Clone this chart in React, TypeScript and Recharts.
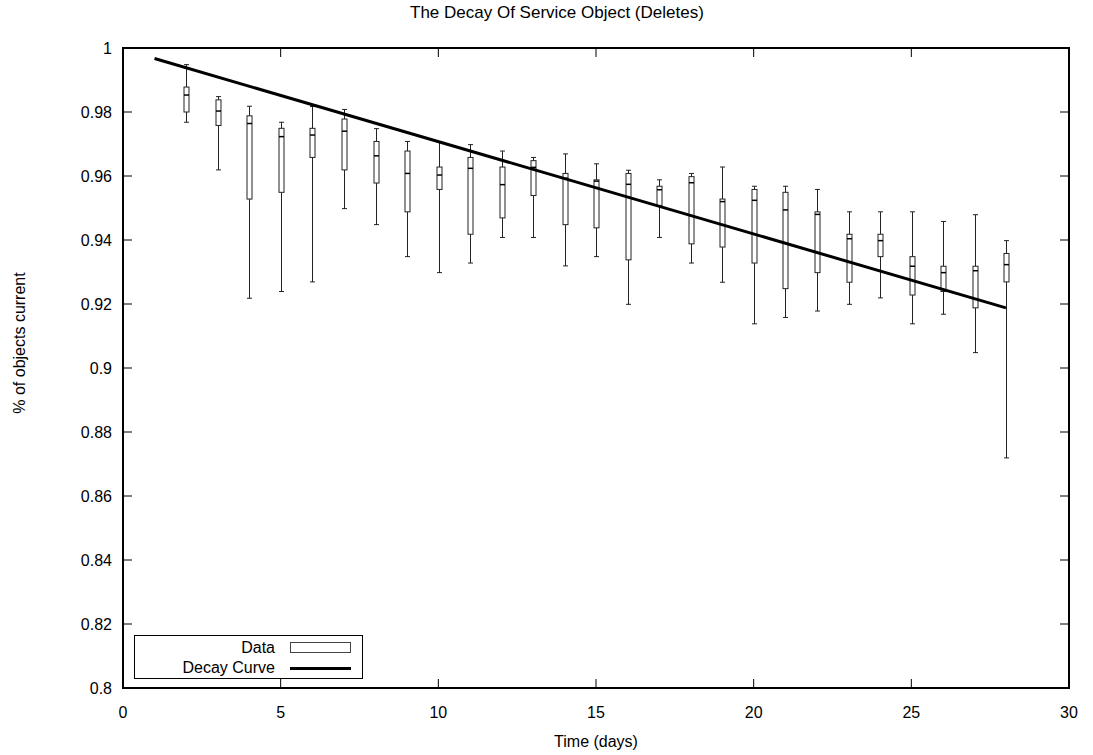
import { ComposedChart, Bar, Line, XAxis, YAxis, ReferenceArea } from 'recharts'

// box plot columns, one entry per day
const days = [2, 3, 4, 5, 6, 7, 8, 9, 10, 11, 12, 13, 14, 15, 16, 17, 18, 19, 20, 21, 22, 23, 24, 25, 26, 27, 28]
const whiskerHigh = [0.9948, 0.9848, 0.9818, 0.9768, 0.9817, 0.9808, 0.9748, 0.9708, 0.9707, 0.9698, 0.9678, 0.9658, 0.9669, 0.9638, 0.9618, 0.9588, 0.9608, 0.9628, 0.9568, 0.9568, 0.9558, 0.9488, 0.9488, 0.9488, 0.9458, 0.9479, 0.9398]
const boxHigh = [0.9878, 0.9838, 0.9788, 0.9749, 0.9749, 0.9778, 0.9708, 0.9678, 0.9628, 0.9658, 0.9628, 0.9648, 0.9608, 0.9588, 0.9608, 0.9568, 0.9598, 0.9528, 0.9558, 0.9549, 0.9488, 0.9418, 0.9418, 0.9348, 0.9318, 0.9318, 0.9358]
const medians = [0.9853, 0.9803, 0.9764, 0.9723, 0.9728, 0.974, 0.9663, 0.9608, 0.9603, 0.9624, 0.9573, 0.9627, 0.9593, 0.9584, 0.9574, 0.9557, 0.9579, 0.952, 0.9524, 0.9494, 0.948, 0.9404, 0.9398, 0.9318, 0.9298, 0.9304, 0.9323]
const boxLow = [0.98, 0.9758, 0.9528, 0.9549, 0.9658, 0.9619, 0.9578, 0.9488, 0.9558, 0.9418, 0.9469, 0.9539, 0.9448, 0.9438, 0.9338, 0.9508, 0.9388, 0.9378, 0.9328, 0.9248, 0.9298, 0.9268, 0.9348, 0.9228, 0.9239, 0.9188, 0.9269]
const whiskerLow = [0.9768, 0.9619, 0.9218, 0.9239, 0.9269, 0.9498, 0.9448, 0.9348, 0.9298, 0.9328, 0.9408, 0.9408, 0.9319, 0.9348, 0.9199, 0.9408, 0.9328, 0.9268, 0.9138, 0.9158, 0.9178, 0.9199, 0.9219, 0.9138, 0.9168, 0.9048, 0.8719]

// fitted decay curve end points
const decayDays = [1, 28]
const decayValues = [0.9967, 0.9188]

const xTicks = [0, 5, 10, 15, 20, 25, 30]
const yTicks = [0.8, 0.82, 0.84, 0.86, 0.88, 0.9, 0.92, 0.94, 0.96, 0.98, 1]

const boxData = days.map((day, i) => ({
  day,
  whi: whiskerHigh[i],
  bhi: boxHigh[i],
  med: medians[i],
  blo: boxLow[i],
  wlo: whiskerLow[i],
}))
const decayData = decayDays.map((day, i) => ({ day, decay: decayValues[i] }))

const PLOT_LEFT = 123
const PLOT_RIGHT = 1069
const PLOT_TOP = 48
const PLOT_BOTTOM = 688
const FONT = '"Liberation Sans", Arial, sans-serif'

const BoxShape = (props: any) => {
  const { x, y, width, height, payload } = props
  if (!payload) return null
  const top = Math.min(y, y + height)
  const h = Math.abs(height)
  const ratio = h / (payload.whi - payload.wlo)
  const cx = Math.round(x + width / 2) + 0.5
  const py = (v: number) => top + (payload.whi - v) * ratio
  const half = 2.5
  return (
    <g stroke="#222" strokeWidth={1} fill="none">
      <line x1={cx} x2={cx} y1={py(payload.whi)} y2={py(payload.bhi)} />
      <line x1={cx} x2={cx} y1={py(payload.blo)} y2={py(payload.wlo)} />
      <line x1={cx - half} x2={cx + half} y1={py(payload.whi)} y2={py(payload.whi)} />
      <line x1={cx - half} x2={cx + half} y1={py(payload.wlo)} y2={py(payload.wlo)} />
      <rect x={cx - half} y={py(payload.bhi)} width={half * 2} height={py(payload.blo) - py(payload.bhi)} fill="#fff" />
      <line x1={cx - half} x2={cx + half} y1={py(payload.med)} y2={py(payload.med)} stroke="#000" strokeWidth={1.5} />
    </g>
  )
}

const YTick = (props: any) => {
  const { y, payload } = props
  return (
    <g>
      <text x={112} y={y} dy={6} textAnchor="end" fontSize={16} fontFamily={FONT} fill="#000">
        {payload.value}
      </text>
      <line x1={PLOT_LEFT} x2={PLOT_LEFT + 9} y1={y} y2={y} stroke="#000" strokeWidth={1} />
      <line x1={PLOT_RIGHT - 9} x2={PLOT_RIGHT} y1={y} y2={y} stroke="#000" strokeWidth={1} />
    </g>
  )
}

const XTick = (props: any) => {
  const { x, payload } = props
  return (
    <g>
      <text x={x} y={718} textAnchor="middle" fontSize={16} fontFamily={FONT} fill="#000">
        {payload.value}
      </text>
      <line x1={x} x2={x} y1={PLOT_BOTTOM - 9} y2={PLOT_BOTTOM} stroke="#000" strokeWidth={1} />
      <line x1={x} x2={x} y1={PLOT_TOP} y2={PLOT_TOP + 9} stroke="#000" strokeWidth={1} />
    </g>
  )
}

export default function App() {
  return (
    <div style={{ position: 'absolute', left: 0, top: 0, width: 1093, height: 755, background: '#fff', fontFamily: FONT }}>
      <ComposedChart width={1093} height={755} data={boxData} margin={{ top: PLOT_TOP, right: 1093 - PLOT_RIGHT, bottom: 0, left: 0 }}>
        <XAxis
          dataKey="day"
          type="number"
          domain={[0, 30]}
          ticks={xTicks}
          height={67}
          axisLine={false}
          tickLine={false}
          tick={<XTick />}
          allowDataOverflow
        />
        <YAxis
          type="number"
          domain={[0.8, 1]}
          ticks={yTicks}
          width={PLOT_LEFT}
          axisLine={false}
          tickLine={false}
          tick={<YTick />}
          allowDataOverflow
        />
        <Bar
          dataKey={(d: any) => [d.wlo, d.whi]}
          barSize={6}
          shape={<BoxShape />}
          isAnimationActive={false}
        />
        <Line
          data={decayData}
          dataKey="decay"
          type="linear"
          stroke="#000"
          strokeWidth={3}
          dot={false}
          activeDot={false}
          isAnimationActive={false}
        />
        <ReferenceArea x1={0} x2={30} y1={0.8} y2={1} fill="none" stroke="#000" strokeWidth={2} />
      </ComposedChart>

      <div style={{ position: 'absolute', left: 410, top: 3, fontSize: 17, whiteSpace: 'nowrap' }}>
        The Decay Of Service Object (Deletes)
      </div>
      <div style={{ position: 'absolute', left: PLOT_LEFT, width: PLOT_RIGHT - PLOT_LEFT, top: 733, textAlign: 'center', fontSize: 16 }}>
        Time (days)
      </div>
      <div
        style={{
          position: 'absolute',
          left: 20,
          top: 343,
          fontSize: 16,
          whiteSpace: 'nowrap',
          transform: 'translate(-50%, -50%) rotate(-90deg)',
        }}
      >
        % of objects current
      </div>

      <div
        style={{
          position: 'absolute',
          left: 134,
          top: 635,
          width: 229,
          height: 44,
          border: '1px solid #000',
          boxSizing: 'border-box',
          background: '#fff',
          fontSize: 16,
        }}
      >
        <div style={{ position: 'absolute', right: 87, top: 2, lineHeight: '20px' }}>Data</div>
        <div style={{ position: 'absolute', right: 87, top: 22, lineHeight: '20px', whiteSpace: 'nowrap' }}>Decay Curve</div>
        <svg style={{ position: 'absolute', left: 154, top: 5 }} width={64} height={36}>
          <rect x={1.5} y={1.5} width={60} height={10} fill="#fff" stroke="#444" strokeWidth={1} />
          <line x1={1} x2={62} y1={27.5} y2={27.5} stroke="#000" strokeWidth={3} />
        </svg>
      </div>
    </div>
  )
}
